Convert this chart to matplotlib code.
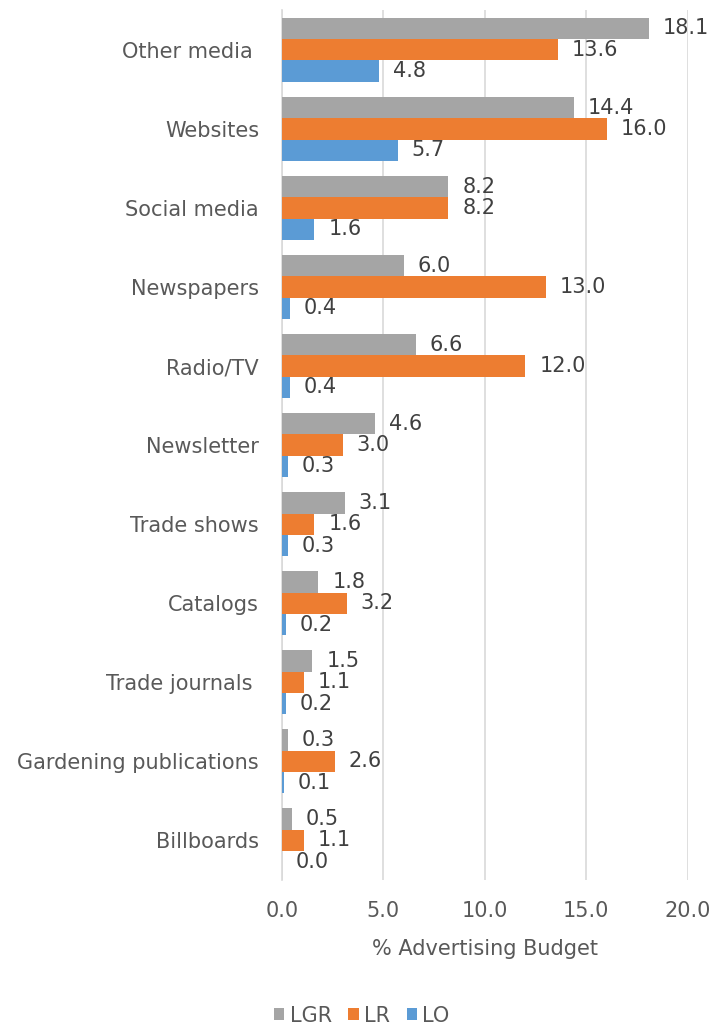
import matplotlib
matplotlib.use("Agg")
import matplotlib.pyplot as plt
import numpy as np

categories = ["Other media ", "Websites", "Social media", "Newspapers", "Radio/TV",
              "Newsletter", "Trade shows", "Catalogs", "Trade journals ",
              "Gardening publications", "Billboards"]
lgr = [18.1, 14.4, 8.2, 6.0, 6.6, 4.6, 3.1, 1.8, 1.5, 0.3, 0.5]
lr = [13.6, 16.0, 8.2, 13.0, 12.0, 3.0, 1.6, 3.2, 1.1, 2.6, 1.1]
lo = [4.8, 5.7, 1.6, 0.4, 0.4, 0.3, 0.3, 0.2, 0.2, 0.1, 0.0]
series_names = ["LGR", "LR", "LO"]
colors = ["#A5A5A5", "#ED7D31", "#5B9BD5"]
xticks = [0, 5, 10, 15, 20]

plt.rcParams['font.family'] = ['DejaVu Sans']
txt = "#595959"
fs = 15

fig = plt.figure(figsize=(7.12, 10.28), dpi=100)
ax = fig.add_axes([0.396, 0.144, 0.570, 0.846])

n = len(categories)
y = np.arange(n)
h = 0.27
for i, (vals, name, c) in enumerate(zip([lgr, lr, lo], series_names, colors)):
    pos = y + (i - 1) * h
    bars = ax.barh(pos, vals, height=h, color=c, label=name, zorder=3)
    for b, v in zip(bars, vals):
        ax.annotate(f"{v:.1f}", xy=(v, b.get_y() + h / 2), xytext=(10, 0),
                    textcoords="offset points", va="center", ha="left",
                    fontsize=fs, color="#404040", annotation_clip=False)

ax.set_ylim(n - 0.5, -0.5)
ax.set_xlim(0, 20)
ax.set_yticks(y)
ax.set_yticklabels(categories, fontsize=fs, color=txt)
ax.set_xticks(xticks)
ax.set_xticklabels([f"{t:.1f}" for t in xticks], fontsize=fs, color=txt)
ax.tick_params(axis="both", length=0)
ax.tick_params(axis="x", pad=15)
ax.tick_params(axis="y", pad=16.5)
ax.grid(axis="x", color="#D9D9D9", linewidth=1.2, zorder=0)
for s in ["top", "right", "bottom"]:
    ax.spines[s].set_visible(False)
ax.spines["left"].set_color("#D9D9D9")
ax.spines["left"].set_linewidth(1.2)
ax.set_xlabel("% Advertising Budget", fontsize=fs, color=txt, labelpad=13)

handles, labels = ax.get_legend_handles_labels()
fig.legend(handles, labels, loc="lower center", bbox_to_anchor=(0.508, -0.016), ncol=3,
           frameon=False, fontsize=fs, labelcolor=txt, handlelength=0.5,
           handleheight=0.5, handletextpad=0.25, columnspacing=0.8)

fig.savefig("out.png", dpi=100)
